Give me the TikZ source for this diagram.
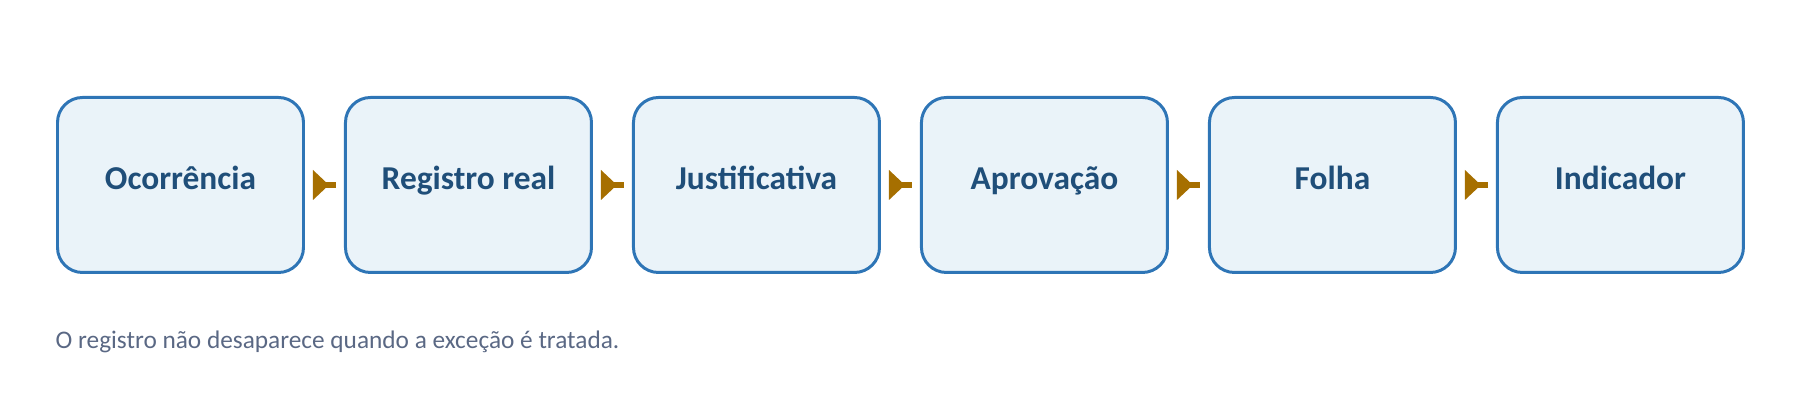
\documentclass[tikz,border=0pt]{standalone}
\usepackage{fontspec}
\setmainfont{Carlito}
\usepackage{tikz}
\usetikzlibrary{arrows.meta,positioning}

\definecolor{stapRand}{RGB}{46,117,182}
\definecolor{stapVul}{RGB}{234,243,249}
\definecolor{stapTekst}{RGB}{31,78,121}
\definecolor{pijlKleur}{RGB}{166,111,0}
\definecolor{notaKleur}{RGB}{90,104,132}

\begin{document}
\begin{tikzpicture}[
			% Stijlen
			stap/.style={draw=stapRand, fill=stapVul, line width=0.85pt, rounded corners=2.5mm,
				minimum width=2.46cm, minimum height=1.75cm, inner sep=0pt,
				text height=0.2cm, text depth=0.1cm,
				text=stapTekst, font=\fontsize{9.5}{11}\selectfont\bfseries},
			flow/.style={{Triangle[reversed, length=0.16cm, width=0.29cm]}-, line width=0.06cm, draw=pijlKleur,
				shorten <=0.08cm, shorten >=0.08cm},
			nota/.style={text=notaKleur, font=\fontsize{7.2}{8.5}\selectfont, anchor=west, inner sep=0pt},
			node distance=0.39cm
		]

		% --- Kader ---
		\useasboundingbox (0,0) rectangle (18,-4.2);

		% --- Stappen ---
		\node[stap] (occ) at (1.805,-1.85) {Ocorrência};
		\node[stap, right=of occ] (reg) {Registro real};
		\node[stap, right=of reg] (jus) {Justificativa};
		\node[stap, right=of jus] (apr) {Aprovação};
		\node[stap, right=of apr] (fol) {Folha};
		\node[stap, right=of fol] (ind) {Indicador};

		% --- Pijlen ---
		\foreach \a/\b in {occ/reg, reg/jus, jus/apr, apr/fol, fol/ind}
			\draw[flow] (\a.east) -- (\b.west);

		% --- Opmerking ---
		\node[nota] (opm) at (0.55,-3.42) {O registro não desaparece quando a exceção é tratada.};

	\end{tikzpicture}
\end{document}
